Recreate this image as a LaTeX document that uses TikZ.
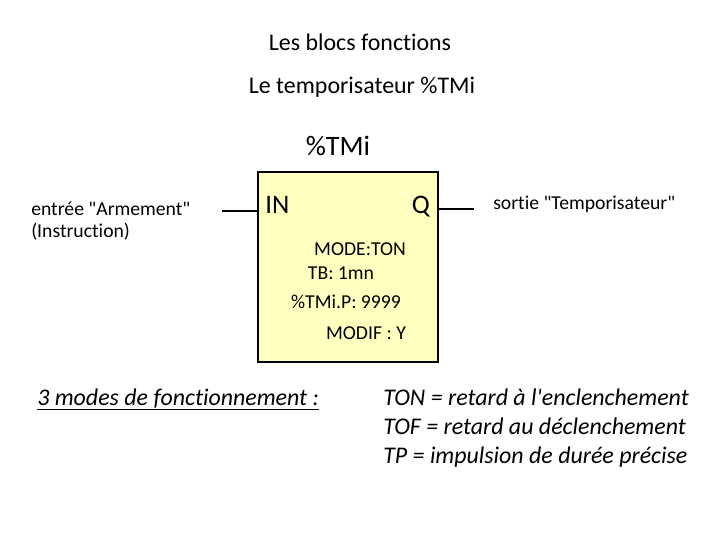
\documentclass[tikz,border=0pt]{standalone}
\usepackage{fontspec}
\setmainfont{Carlito}[Ligatures={TeXOff,NoCommon}]
\usepackage{tikz}
\usetikzlibrary{positioning}
\definecolor{blocfill}{HTML}{FFFFC0}

\begin{document}
\begin{tikzpicture}[
    x=0.025cm, y=-0.025cm,
    txt/.style={inner sep=0pt, font=\fontsize{17}{20}\selectfont},
    big/.style={inner sep=0pt, font=\fontsize{20}{24}\selectfont},
    pin/.style={inner sep=0pt, font=\fontsize{19}{22}\selectfont},
    param/.style={inner sep=0pt, font=\fontsize{14}{16}\selectfont},
    small/.style={inner sep=0pt, font=\fontsize{14}{15.6}\selectfont},
    note/.style={inner sep=0pt, anchor=base west, font=\fontsize{17}{20}\selectfont\itshape},
    bloc/.style={draw=black, line width=1.2pt, fill=blocfill},
    wire/.style={line width=1.2pt, draw=black}
]
\useasboundingbox (0,0) rectangle (720,540);

% Titles
\node[txt] (titre) at (360,42) {Les blocs fonctions};
\node[txt] (soustitre) at (362,87) {Le temporisateur \%TMi};
\node[big] (nom) at (338,146) {\%TMi};

% Function block
\draw[bloc] (258,172) rectangle (438,362);
\coordinate (inL) at (258,211);
\coordinate (outR) at (438,209);
\coordinate (inW) at (222,211);
\coordinate (outW) at (474,209);
\node[pin, anchor=west] (in) at (265,205) {IN};
\node[pin, anchor=east] (q) at (430,207) {Q};

% Parameters
\node[param] (mode) at (360,249) {MODE:TON};
\node[param] (tb) at (341,273) {TB: 1mn};
\node[param] (preset) at (346,302) {\%TMi.P: 9999};
\node[param] (modif) at (366,333) {MODIF : Y};

% Wires
\draw[wire] (inW) -- (inL);
\draw[wire] (outR) -- (outW);

% Input / output labels
\node[small, anchor=west, align=left] (entree) at (31,221)
    {entrée "Armement"\\(Instruction)};
\node[small, anchor=west] (sortie) at (493,204) {sortie "Temporisateur"};

% Modes
\node[note] (modes) at (37,405) {\underline{3 modes de fonctionnement :}};
\node[note] (ton) at (383,405) {TON = retard à l'enclenchement};
\node[note] (tof) at (383,434) {TOF = retard au déclenchement};
\node[note] (tp) at (383,463) {TP = impulsion de durée précise};

\end{tikzpicture}
\end{document}
